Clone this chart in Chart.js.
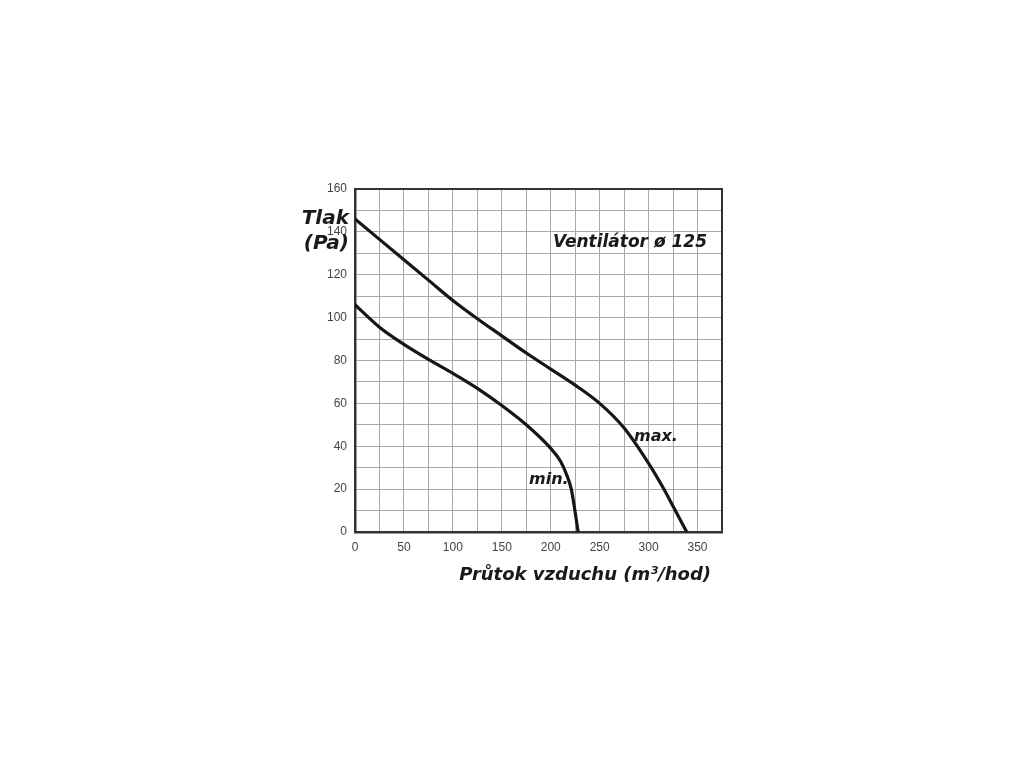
<!DOCTYPE html>
<html>
<head>
<meta charset="utf-8">
<script src="https://cdn.jsdelivr.net/npm/chart.js@4"></script>
<style>
  html, body { margin: 0; padding: 0; background: #fff; }
  #wrap { width: 1024px; height: 768px; }
</style>
</head>
<body>
<div id="wrap"><canvas id="fanChart" width="1024" height="768"></canvas></div>
<script>
// curve readings (flow m3/h -> pressure Pa)
const maxFlow = [0, 25, 50, 75, 100, 125, 150, 175, 200, 225, 250, 275, 300, 315, 325, 339];
const maxPressure = [146, 136.5, 127, 117.5, 108, 99.5, 91.5, 83.5, 76, 68.5, 60, 48.5, 32, 20.5, 12, 0];
const minFlow = [0, 25, 50, 75, 100, 125, 150, 175, 200, 210, 216, 221, 224, 228];
const minPressure = [106, 95.5, 87.5, 80.5, 74, 67, 59, 50, 39, 33, 27, 20, 12, 0];

const xTicks = [0, 50, 100, 150, 200, 250, 300, 350];
const yTicks = [0, 20, 40, 60, 80, 100, 120, 140, 160];

const toPoints = (xs, ys) => xs.map((x, i) => ({ x: x, y: ys[i] }));

// text labels + top/right frame
const extras = {
  id: 'extras',
  afterDraw(chart) {
    const { ctx, chartArea } = chart;
    ctx.save();
    ctx.strokeStyle = '#333';
    ctx.lineWidth = 2;
    ctx.beginPath();
    ctx.moveTo(chartArea.left, chartArea.top);
    ctx.lineTo(chartArea.right, chartArea.top);
    ctx.lineTo(chartArea.right, chartArea.bottom);
    ctx.stroke();

    ctx.fillStyle = '#1a1a1a';
    ctx.textBaseline = 'middle';
    ctx.font = 'bold italic 20px "DejaVu Sans", sans-serif';
    ctx.textAlign = 'right';
    ctx.fillText('Tlak', 349, 219);
    ctx.fillText('(Pa)', 349, 244);

    ctx.font = 'bold italic 17px "DejaVu Sans", sans-serif';
    ctx.textAlign = 'left';
    ctx.fillText('Ventilátor ø 125', 553, 243);
    ctx.font = 'bold italic 16px "DejaVu Sans", sans-serif';
    ctx.fillText('max.', 634, 437);
    ctx.fillText('min.', 529, 480);

    ctx.font = 'bold italic 18px "DejaVu Sans", sans-serif';
    ctx.textAlign = 'right';
    ctx.fillText('Průtok vzduchu (m³/hod)', 711, 575);
    ctx.restore();
  }
};

const lineStyle = {
  borderColor: '#161616',
  borderWidth: 3.2,
  pointRadius: 0,
  fill: false,
  cubicInterpolationMode: 'monotone'
};

new Chart(document.getElementById('fanChart').getContext('2d'), {
  type: 'line',
  data: {
    datasets: [
      Object.assign({ label: 'max.', data: toPoints(maxFlow, maxPressure) }, lineStyle),
      Object.assign({ label: 'min.', data: toPoints(minFlow, minPressure) }, lineStyle)
    ]
  },
  options: {
    responsive: false,
    animation: false,
    layout: { padding: { top: 189, right: 302, left: 0, bottom: 0 } },
    plugins: {
      legend: { display: false },
      tooltip: { enabled: false }
    },
    scales: {
      x: {
        type: 'linear',
        min: 0,
        max: 375,
        afterFit: (scale) => { scale.height = 236; },
        afterBuildTicks: (scale) => {
          const t = [];
          for (let v = 0; v <= 375; v += 25) t.push({ value: v });
          scale.ticks = t;
        },
        ticks: {
          autoSkip: false,
          maxRotation: 0,
          padding: 8,
          color: '#444',
          font: { family: '"Liberation Sans", Arial, sans-serif', size: 12 },
          callback: (v) => (xTicks.includes(v) ? String(v) : '')
        },
        grid: { color: '#a8a8a8', lineWidth: 1, drawTicks: false },
        border: { color: '#333', width: 2.5 }
      },
      y: {
        type: 'linear',
        min: 0,
        max: 160,
        afterFit: (scale) => { scale.width = 355; },
        afterBuildTicks: (scale) => {
          const t = [];
          for (let v = 0; v <= 160; v += 10) t.push({ value: v });
          scale.ticks = t;
        },
        ticks: {
          autoSkip: false,
          padding: 8,
          color: '#444',
          font: { family: '"Liberation Sans", Arial, sans-serif', size: 12 },
          callback: (v) => (yTicks.includes(v) ? String(v) : '')
        },
        grid: { color: '#a8a8a8', lineWidth: 1, drawTicks: false },
        border: { color: '#333', width: 2.5 }
      }
    }
  },
  plugins: [extras]
});
</script>
</body>
</html>
